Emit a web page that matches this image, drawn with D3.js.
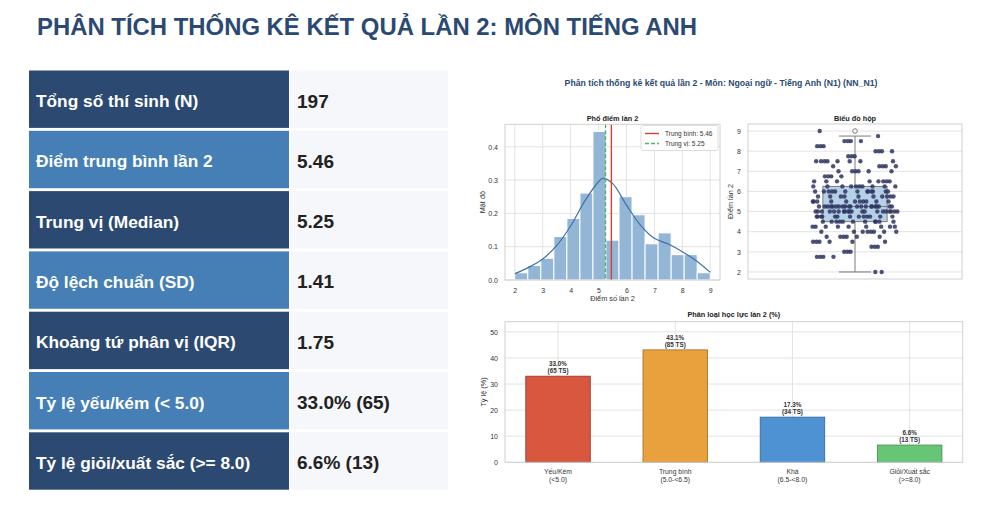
<!DOCTYPE html>
<html>
<head>
<meta charset="utf-8">
<script src="https://cdn.jsdelivr.net/npm/d3@7"></script>
<style>
  body { margin: 0; background: #fff; }
  svg { display: block; font-family: "Liberation Sans", Arial, sans-serif; }
</style>
</head>
<body>
<div class="slide"></div>
<script>
// ---- data ----
const pageTitle = "PHÂN TÍCH THỐNG KÊ KẾT QUẢ LẦN 2: MÔN TIẾNG ANH";
const figTitle = "Phân tích thống kê kết quả lần 2 - Môn: Ngoại ngữ - Tiếng Anh (N1) (NN_N1)";

const statLabels = [
    "Tổng số thí sinh (N)",
    "Điểm trung bình lần 2",
    "Trung vị (Median)",
    "Độ lệch chuẩn (SD)",
    "Khoảng tứ phân vị (IQR)",
    "Tỷ lệ yếu/kém (< 5.0)",
    "Tỷ lệ giỏi/xuất sắc (>= 8.0)"
];
const statValues = ["197", "5.46", "5.25", "1.41", "1.75", "33.0% (65)", "6.6% (13)"];

// scores (step 0.25) and how many candidates got each
const scoreValues = [2, 2.75, 3, 3.25, 3.5, 3.75, 4, 4.25, 4.5, 4.75, 5, 5.25, 5.5, 5.75,
    6, 6.25, 6.5, 6.75, 7, 7.25, 7.5, 7.75, 8, 8.25, 8.5, 8.75, 9];
const scoreCounts = [2, 4, 3, 3, 6, 6, 8, 9, 11, 13, 20, 21, 11, 10,
    13, 10, 8, 4, 6, 5, 8, 3, 4, 3, 4, 1, 1];

const meanScore = 5.46;
const medianScore = 5.25;

// KDE curve as drawn
const kdeX = [2, 2.5, 3, 3.5, 4, 4.5, 5, 5.15, 5.5, 6, 6.5, 7, 7.5, 8, 8.5, 9];
const kdeY = [0.019, 0.038, 0.063, 0.103, 0.162, 0.236, 0.295, 0.305, 0.29, 0.225, 0.165, 0.125, 0.108, 0.085, 0.058, 0.023];

// box plot summary
const boxQ1 = 4.5, boxMedian = 5.25, boxQ3 = 6.25, whiskerLow = 2, whiskerHigh = 8.75;
const outliers = [9];

// classification bars
const levelNames = ["Yếu/Kém", "Trung bình", "Khá", "Giỏi/Xuất sắc"];
const levelRanges = ["(<5.0)", "(5.0-<6.5)", "(6.5-<8.0)", "(>=8.0)"];
const levelPercents = [33.0, 43.1, 17.3, 6.6];
const levelCounts = [65, 85, 34, 13];
const levelColors = ["#d9573f", "#e8a13c", "#4f92d3", "#66c676"];
const levelEdges = ["#9c3b2c", "#a9762c", "#386b9c", "#4a9156"];

// ---- drawing ----
const width = 1000;
const height = 510;

const svg = d3.select(".slide")
    .append("svg")
    .attr("width", width)
    .attr("height", height);

svg.append("text")
    .attr("x", 37)
    .attr("y", 35)
    .attr("font-size", 23.9)
    .attr("font-weight", "bold")
    .attr("fill", "#2b4a72")
    .text(pageTitle);

// Stat table:
const table = svg.append("g");
const rowTop = i => 70.5 + i * 60.3;
statLabels.forEach((label, i) => {
    table.append("rect")
        .attr("x", 29).attr("y", rowTop(i))
        .attr("width", 260).attr("height", 57.4)
        .attr("fill", i % 2 === 0 ? "#2c4a71" : "#457fb6");
    table.append("rect")
        .attr("x", 290).attr("y", rowTop(i))
        .attr("width", 158).attr("height", 57.4)
        .attr("fill", "#f5f7fa");
    table.append("text")
        .attr("x", 36).attr("y", rowTop(i) + 36.5)
        .attr("font-size", 17.3).attr("font-weight", "bold")
        .attr("fill", "#fff")
        .text(label);
    table.append("text")
        .attr("x", 297).attr("y", rowTop(i) + 37)
        .attr("font-size", 19).attr("font-weight", "bold")
        .attr("fill", "#222")
        .text(statValues[i]);
});

// Figure:
svg.append("text")
    .attr("x", 721).attr("y", 86)
    .attr("text-anchor", "middle")
    .attr("font-size", 8.7).attr("font-weight", "bold")
    .attr("fill", "#2b4a70")
    .text(figTitle);

const tickColor = "#333";
const gridColor = "#e3e3e3";
const spineColor = "#d0d0d0";

function frame(g, x0, y0, w, h) {
    g.append("rect")
        .attr("x", x0).attr("y", y0)
        .attr("width", w).attr("height", h)
        .attr("fill", "none")
        .attr("stroke", spineColor)
        .attr("stroke-width", 1);
}

function styleAxis(axisG) {
    axisG.select(".domain").remove();
    axisG.selectAll("line").remove();
    axisG.selectAll("text")
        .attr("fill", tickColor)
        .attr("font-size", 7);
}

// --- Histogram ---
const scores = scoreValues.flatMap((v, i) => d3.range(scoreCounts[i]).map(() => v));
const binWidth = 7 / 15;
const bins = d3.bin()
    .domain([2, 9])
    .thresholds(d3.range(1, 15).map(i => 2 + i * binWidth))(scores);

const hx0 = 505, hx1 = 720, hy0 = 124.3, hy1 = 280;
const histX = d3.scaleLinear().domain([1.65, 9.35]).range([hx0, hx1]);
const histY = d3.scaleLinear().domain([0, 0.4675]).range([hy1, hy0]);
const hist = svg.append("g");

hist.append("g")
    .selectAll("line.vg")
    .data(d3.range(2, 10))
    .join("line")
    .attr("x1", d => histX(d)).attr("x2", d => histX(d))
    .attr("y1", hy0).attr("y2", hy1)
    .attr("stroke", gridColor);
hist.append("g")
    .selectAll("line.hg")
    .data([0, 0.1, 0.2, 0.3, 0.4])
    .join("line")
    .attr("x1", hx0).attr("x2", hx1)
    .attr("y1", d => histY(d)).attr("y2", d => histY(d))
    .attr("stroke", gridColor);

hist.append("g")
    .selectAll("rect")
    .data(bins)
    .join("rect")
    .attr("x", d => histX(d.x0))
    .attr("width", d => histX(d.x1) - histX(d.x0))
    .attr("y", d => histY(d.length / (scores.length * binWidth)))
    .attr("height", d => hy1 - histY(d.length / (scores.length * binWidth)))
    .attr("fill", "#93b5d6")
    .attr("stroke", "#fff")
    .attr("stroke-width", 1);

const kdeLine = d3.line()
    .x(d => histX(d[0]))
    .y(d => histY(d[1]))
    .curve(d3.curveCatmullRom.alpha(0.5));
hist.append("path")
    .attr("d", kdeLine(d3.zip(kdeX, kdeY)))
    .attr("fill", "none")
    .attr("stroke", "#3f72a6")
    .attr("stroke-width", 1.2);

hist.append("line")
    .attr("x1", histX(meanScore)).attr("x2", histX(meanScore))
    .attr("y1", hy0).attr("y2", hy1)
    .attr("stroke", "#d6402f").attr("stroke-width", 1.4);
hist.append("line")
    .attr("x1", histX(medianScore)).attr("x2", histX(medianScore))
    .attr("y1", hy0).attr("y2", hy1)
    .attr("stroke", "#4cb85f").attr("stroke-width", 1.4)
    .attr("stroke-dasharray", "4,2");

frame(hist, hx0, hy0, hx1 - hx0, hy1 - hy0);

const hxAxis = hist.append("g")
    .attr("transform", `translate(0,${hy1 + 5})`)
    .call(d3.axisBottom(histX).tickValues(d3.range(2, 10)).tickFormat(d3.format("d")).tickSize(0));
styleAxis(hxAxis);
const hyAxis = hist.append("g")
    .attr("transform", `translate(${hx0 - 4},0)`)
    .call(d3.axisLeft(histY).tickValues([0, 0.1, 0.2, 0.3, 0.4]).tickFormat(d3.format(".1f")).tickSize(0));
styleAxis(hyAxis);

// legend
const legend = hist.append("g").attr("transform", "translate(641,125.5)");
legend.append("rect")
    .attr("width", 77).attr("height", 25)
    .attr("rx", 2)
    .attr("fill", "#fff").attr("fill-opacity", 0.85)
    .attr("stroke", "#ddd");
legend.append("line")
    .attr("x1", 4).attr("x2", 18).attr("y1", 8).attr("y2", 8)
    .attr("stroke", "#d6402f").attr("stroke-width", 1.4);
legend.append("line")
    .attr("x1", 4).attr("x2", 18).attr("y1", 18).attr("y2", 18)
    .attr("stroke", "#4cb85f").attr("stroke-width", 1.4)
    .attr("stroke-dasharray", "4,2");
legend.append("text")
    .attr("x", 24).attr("y", 10.5)
    .attr("font-size", 6.5).attr("fill", "#333")
    .text(`Trung bình: ${meanScore.toFixed(2)}`);
legend.append("text")
    .attr("x", 24).attr("y", 20.5)
    .attr("font-size", 6.5).attr("fill", "#333")
    .text(`Trung vị: ${medianScore.toFixed(2)}`);

hist.append("text")
    .attr("x", (hx0 + hx1) / 2).attr("y", 120.5)
    .attr("text-anchor", "middle")
    .attr("font-size", 7.3).attr("font-weight", "bold").attr("fill", "#222")
    .text("Phổ điểm lần 2");
hist.append("text")
    .attr("x", (hx0 + hx1) / 2).attr("y", 301)
    .attr("text-anchor", "middle")
    .attr("font-size", 7.3).attr("fill", "#333")
    .text("Điểm số lần 2");
hist.append("text")
    .attr("transform", `translate(485,${(hy0 + hy1) / 2}) rotate(-90)`)
    .attr("text-anchor", "middle")
    .attr("font-size", 7.3).attr("fill", "#333")
    .text("Mật độ");

// --- Box plot ---
const bx0 = 748, bx1 = 962, by0 = 124, by1 = 279;
const boxX = d3.scaleLinear().domain([-0.5, 0.5]).range([bx0, bx1]);
const boxY = d3.scaleLinear().domain([1.65, 9.35]).range([by1, by0]);
const box = svg.append("g");

box.append("g")
    .selectAll("line")
    .data(d3.range(2, 10))
    .join("line")
    .attr("x1", bx0).attr("x2", bx1)
    .attr("y1", d => boxY(d)).attr("y2", d => boxY(d))
    .attr("stroke", gridColor);

const boxColor = "#7a7a7a";
box.append("line")
    .attr("x1", boxX(0)).attr("x2", boxX(0))
    .attr("y1", boxY(whiskerLow)).attr("y2", boxY(boxQ1))
    .attr("stroke", boxColor);
box.append("line")
    .attr("x1", boxX(0)).attr("x2", boxX(0))
    .attr("y1", boxY(boxQ3)).attr("y2", boxY(whiskerHigh))
    .attr("stroke", boxColor);
[whiskerLow, whiskerHigh].forEach(v => {
    box.append("line")
        .attr("x1", boxX(-0.075)).attr("x2", boxX(0.075))
        .attr("y1", boxY(v)).attr("y2", boxY(v))
        .attr("stroke", boxColor);
});
box.append("rect")
    .attr("x", boxX(-0.15)).attr("width", boxX(0.15) - boxX(-0.15))
    .attr("y", boxY(boxQ3)).attr("height", boxY(boxQ1) - boxY(boxQ3))
    .attr("fill", "#a8c9e4").attr("fill-opacity", 0.85)
    .attr("stroke", boxColor);
box.append("line")
    .attr("x1", boxX(-0.15)).attr("x2", boxX(0.15))
    .attr("y1", boxY(boxMedian)).attr("y2", boxY(boxMedian))
    .attr("stroke", boxColor);
box.selectAll("circle.outlier")
    .data(outliers)
    .join("circle")
    .attr("class", "outlier")
    .attr("cx", boxX(0)).attr("cy", d => boxY(d))
    .attr("r", 2.3)
    .attr("fill", "#fff").attr("stroke", boxColor);

// strip points: spread each score row across the jitter band (deterministic)
const spread = (i, j) => {
    const t = (i + 1) * 0.7548777 + (i + 1) * (i + 1) * 0.0569 + j * 0.3183;
    return t - Math.floor(t);
};
const stripPoints = scoreValues.flatMap((v, j) =>
    d3.range(scoreCounts[j]).map(i => ({
        score: v,
        offset: (spread(i, j) - 0.5) * 0.4
    })));
box.append("g")
    .selectAll("circle")
    .data(stripPoints)
    .join("circle")
    .attr("cx", d => boxX(d.offset))
    .attr("cy", d => boxY(d.score))
    .attr("r", 2.2)
    .attr("fill", "#2e3560")
    .attr("fill-opacity", 0.85);

frame(box, bx0, by0, bx1 - bx0, by1 - by0);

const byAxis = box.append("g")
    .attr("transform", `translate(${bx0 - 4},0)`)
    .call(d3.axisLeft(boxY).tickValues(d3.range(2, 10)).tickFormat(d3.format("d")).tickSize(0));
styleAxis(byAxis);

box.append("text")
    .attr("x", (bx0 + bx1) / 2).attr("y", 120.5)
    .attr("text-anchor", "middle")
    .attr("font-size", 7.3).attr("font-weight", "bold").attr("fill", "#222")
    .text("Biểu đồ hộp");
box.append("text")
    .attr("transform", `translate(733,${(by0 + by1) / 2}) rotate(-90)`)
    .attr("text-anchor", "middle")
    .attr("font-size", 7.3).attr("fill", "#333")
    .text("Điểm lần 2");

// --- Classification bars ---
const cx0 = 505, cx1 = 962.7, cy0 = 321.7, cy1 = 462.3;
const barX = d3.scaleLinear().domain([-0.4525, 3.4525]).range([cx0, cx1]);
const barY = d3.scaleLinear().domain([0, 53.9]).range([cy1, cy0]);
const bars = svg.append("g");

bars.append("g")
    .selectAll("line")
    .data(levelNames.map((d, i) => i))
    .join("line")
    .attr("x1", d => barX(d)).attr("x2", d => barX(d))
    .attr("y1", cy0).attr("y2", cy1)
    .attr("stroke", gridColor);
bars.append("g")
    .selectAll("line")
    .data(d3.range(0, 60, 10))
    .join("line")
    .attr("x1", cx0).attr("x2", cx1)
    .attr("y1", d => barY(d)).attr("y2", d => barY(d))
    .attr("stroke", gridColor);

bars.append("g")
    .selectAll("rect")
    .data(levelPercents)
    .join("rect")
    .attr("x", (d, i) => barX(i - 0.275))
    .attr("width", barX(0.275) - barX(-0.275))
    .attr("y", d => barY(d))
    .attr("height", d => cy1 - barY(d))
    .attr("fill", (d, i) => levelColors[i])
    .attr("stroke", (d, i) => levelEdges[i])
    .attr("stroke-width", 0.9);

const barLabels = bars.append("g")
    .selectAll("text")
    .data(levelPercents)
    .join("text")
    .attr("text-anchor", "middle")
    .attr("font-size", 6.3).attr("font-weight", "bold").attr("fill", "#333");
barLabels.append("tspan")
    .attr("x", (d, i) => barX(i))
    .attr("y", d => barY(d) - 10)
    .text(d => `${d.toFixed(1)}%`);
barLabels.append("tspan")
    .attr("x", (d, i) => barX(i))
    .attr("y", d => barY(d) - 3)
    .text((d, i) => `(${levelCounts[i]} TS)`);

frame(bars, cx0, cy0, cx1 - cx0, cy1 - cy0);

const cyAxis = bars.append("g")
    .attr("transform", `translate(${cx0 - 4},0)`)
    .call(d3.axisLeft(barY).tickValues(d3.range(0, 60, 10)).tickFormat(d3.format("d")).tickSize(0));
styleAxis(cyAxis);

const catLabels = bars.append("g")
    .selectAll("text")
    .data(levelNames)
    .join("text")
    .attr("text-anchor", "middle")
    .attr("font-size", 6.8).attr("fill", tickColor);
catLabels.append("tspan")
    .attr("x", (d, i) => barX(i)).attr("y", 474)
    .text(d => d);
catLabels.append("tspan")
    .attr("x", (d, i) => barX(i)).attr("y", 482)
    .text((d, i) => levelRanges[i]);

bars.append("text")
    .attr("x", (cx0 + cx1) / 2).attr("y", 317)
    .attr("text-anchor", "middle")
    .attr("font-size", 7.3).attr("font-weight", "bold").attr("fill", "#222")
    .text("Phân loại học lực lần 2 (%)");
bars.append("text")
    .attr("transform", `translate(486,${(cy0 + cy1) / 2}) rotate(-90)`)
    .attr("text-anchor", "middle")
    .attr("font-size", 7.3).attr("fill", "#333")
    .text("Tỷ lệ (%)");
</script>
</body>
</html>
